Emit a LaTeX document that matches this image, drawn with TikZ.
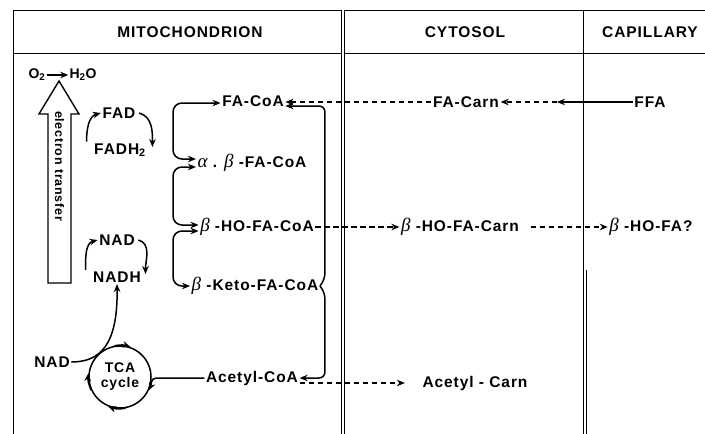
\documentclass[tikz,border=0pt]{standalone}
\usepackage{fontspec}
\setmainfont[LetterSpace=6]{Liberation Sans}
\newfontfamily\grkfont{Liberation Serif}
\usetikzlibrary{arrows.meta}

\newcommand{\bglyph}{{\grkfont\mdseries\itshape\fontsize{19}{19}\selectfont β}}
\newcommand{\aglyph}{{\grkfont\mdseries\itshape\fontsize{19}{19}\selectfont α}}

\tikzset{
  lbl/.style={font=\bfseries\fontsize{15.5}{17}\selectfont, inner sep=1.5pt},
  hdr/.style={font=\bfseries\fontsize{15.5}{17}\selectfont},
  small/.style={font=\bfseries\fontsize{14}{15}\selectfont, inner sep=1pt},
  conn/.style={line width=1.5pt, -{Stealth[length=8pt,width=6.5pt]}},
  bconn/.style={line width=1.5pt, {Stealth[length=8pt,width=6.5pt]}-{Stealth[length=8pt,width=6.5pt]}, rounded corners=9pt},
  dconn/.style={conn, dash pattern=on 5.5pt off 3.5pt},
  wall/.style={line width=0.9pt},
}

\begin{document}
\begin{tikzpicture}[x=1pt,y=-1pt]
\useasboundingbox (0,0) rectangle (705,434);
\draw[wall] (13,434) -- (13,10) -- (705,10);
\draw[wall] (13,53) -- (705,53);
\draw[wall, double, double distance=2.5pt] (343,10) -- (343,434);
\draw[wall] (583,10) -- (583,434);
\draw[wall] (586.5,270) -- (586.5,434);

\node[hdr] (mito) at (190,32) {MITOCHONDRION};
\node[hdr] (cyto) at (465,32) {CYTOSOL};
\node[hdr] (capi) at (650,32) {CAPILLARY};

\node[small] (o2) at (37,75) {O\textsubscript{2}};
\node[small] (h2o) at (83,75) {H\textsubscript{2}O};
\draw[conn] (o2) -- (h2o);
\draw[line width=1.4pt] (48,283) -- (48,114) -- (39,114) -- (59,81) -- (79,114) -- (71,114) -- (71,283) -- cycle;
\node[small, font=\bfseries\fontsize{12.5}{14}\selectfont, rotate=-90] (etr) at (59.5,166) {electron transfer};

\node[lbl] (fad) at (119,113) {FAD};
\node[lbl] (fadh) at (120,150) {FADH\textsubscript{2}};
\draw[conn] ([xshift=-6pt]fadh.north west) to[out=90,in=195] (fad.west);
\draw[conn] ([xshift=2pt]fad.east) to[out=-15,in=90] ([shift={(5pt,3pt)}]fadh.east);
\node[lbl] (nada) at (117,240) {NAD};
\node[lbl] (nadh) at (117,277) {NADH};
\draw[conn] ([xshift=-6pt]nadh.north west) to[out=90,in=195] (nada.west);
\draw[conn] ([xshift=2pt]nada.east) to[out=-15,in=90] ([shift={(3pt,3pt)}]nadh.east);

\node[lbl] (fac) at (253,101) {FA-CoA};
\node[lbl] (ab) at (252,163) {\aglyph\ . \bglyph\ -FA-CoA};
\node[lbl] (bho) at (257,227) {\bglyph\ -HO-FA-CoA};
\node[lbl] (bketo) at (255,286) {\bglyph\ -Keto-FA-CoA};
\node[lbl] (acc) at (252,378) {Acetyl-CoA};
\draw[bconn] ([yshift=-2pt]fac.west) -| (173,130) |- ([yshift=4pt]ab.west);
\draw[bconn] ([yshift=-4pt]ab.west) -| (173,195) |- ([yshift=2pt]bho.west);
\draw[bconn] ([yshift=-4pt]bho.west) -| (173,260) |- (bketo.west);
\draw[conn, rounded corners=6pt] (bketo.east) -- ++(5,-7) |- ([yshift=-5pt]fac.east);
\draw[conn, rounded corners=6pt] (bketo.east) -- ++(5,7) |- (acc.east);

\node[lbl] (facarn) at (466,102) {FA-Carn};
\node[lbl] (ffa) at (650,102) {FFA};
\coordinate (ffatip) at (557,102);
\draw[conn] (ffa.west) -- (ffatip);
\draw[dconn] (ffatip) -- (facarn.east);
\draw[dconn] (facarn.west) -- (fac.east |- facarn.west);

\node[lbl] (bhocarn) at (460,227) {\bglyph\ -HO-FA-Carn};
\node[lbl] (bhofa) at (651,227) {\bglyph\ -HO-FA?};
\draw[dconn] (bho.east) -- (bhocarn.west);
\draw[dconn, shorten <=10pt] (bhocarn.east) -- (bhofa.west);

\node[lbl] (accarn) at (475,383) {Acetyl - Carn};
\draw[dconn, shorten >=16pt] (acc.east |- accarn.west) -- (accarn.west);

\node[lbl] (nadb) at (52,362) {NAD};
\node[draw, circle, line width=1.5pt, minimum size=62pt, inner sep=0pt, align=center,
  font=\bfseries\fontsize{14}{15}\selectfont] (tca) at (120,377) {TCA\\cycle};
\draw[conn] (tca.100) to[bend left=15] (tca.71);
\draw[conn] (tca.205) to[bend left=15] (tca.173);
\draw[conn] (tca.280) to[bend left=15] (tca.248);
\draw[conn] (acc.west) -- ++(-48,0) to[out=180,in=65] (tca.-25);
\draw[conn] (nadb.east) .. controls (100,362) and (118,345) .. (nadh.south);
\end{tikzpicture}
\end{document}
